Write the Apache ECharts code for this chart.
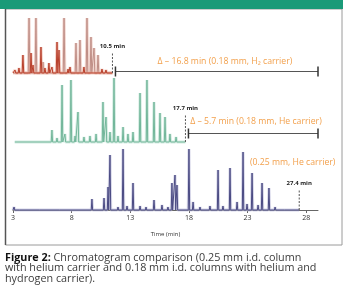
<!DOCTYPE html>
<html><head><meta charset="utf-8">
<script src="https://cdn.jsdelivr.net/npm/echarts@6/dist/echarts.min.js"></script>
<style>html,body{margin:0;padding:0;background:#fff}#c{width:350px;height:293px}</style>
</head><body><div id="c"></div>
<script>
// ---------------- data ----------------
const xTicks = [3, 8, 13, 18, 23, 28];
const axisTitle = 'Time (min)';

// Top: 0.18 mm column, H2 carrier
const topTimesDark   = [3.15, 3.45, 3.75, 4.36, 4.51, 5.11, 5.41, 5.71, 5.94, 6.32, 6.47, 7.15, 7.30, 8.35, 9.71, 10.01];
const topHeightsDark = [3, 5, 18, 20, 8, 26, 5, 10, 6, 31, 23, 4, 6, 6, 4, 3];
const topTimesLight   = [4.21, 4.73, 5.26, 6.85, 7.75, 8.05, 8.58, 8.88, 9.11, 9.41];
const topHeightsLight = [55, 55, 11, 55, 30, 33, 55, 36, 25, 18];

// Middle: 0.18 mm column, He carrier
const midTimes   = [6.32, 6.75, 7.18, 7.43, 7.94, 8.29, 8.54, 9.05, 9.56, 10.08, 10.67, 10.93, 11.27, 11.61, 11.95, 12.38, 12.80, 13.23, 13.83, 14.42, 15.02, 15.53, 15.96, 16.38, 16.90];
const midHeights = [12, 4, 57, 8, 62, 6, 30, 5, 6, 8, 40, 25, 10, 64, 6, 15, 8, 10, 49, 62, 40, 29, 25, 8, 5];

// Bottom: 0.25 mm column, He carrier
const botTimes   = [3.09, 3.60, 5.30, 7.01, 9.73, 10.76, 11.10, 11.27, 11.95, 12.38, 12.72, 13.23, 13.83, 14.34, 15.02, 15.70, 16.21, 16.55, 16.81, 16.98, 18.00, 18.35, 18.94, 19.79, 20.48, 20.90, 21.50, 22.10, 22.61, 22.95, 23.38, 23.89, 24.23, 24.82, 25.34, 26.19];
const botHeights = [3, 2, 2, 2, 11, 12, 23, 55, 3, 61, 4, 27, 4, 3, 10, 5, 3, 27, 35, 25, 61, 8, 3, 4, 40, 4, 42, 8, 58, 6, 37, 5, 27, 22, 3, 2];

// run end times (min) and their labels
const endTimes  = [10.5, 17.7, 27.4];
const endLabels = ['10.5 min', '17.7 min', '27.4 min'];
const deltaLabels = ['\u0394 \u2013 16.8 min (0.18 mm, H\u2082 carrier)', '\u0394 \u2013 5.7 min (0.18 mm, He carrier)', '(0.25 mm, He carrier)'];

// ---------------- chart ----------------
const W = 0.06;
function trace(times, heights, t0, t1) {
  const idx = times.map((t, i) => i).sort((a, b) => times[a] - times[b]);
  const pts = [[t0, 0]];
  idx.forEach(i => { const t = times[i]; pts.push([t - W, 0], [t, heights[i]], [t + W, 0]); });
  pts.push([t1, 0]);
  return pts;
}
function lineSeries(data, gi, color, width, opacity, z) {
  return { type: 'line', xAxisIndex: gi, yAxisIndex: gi, data: data, showSymbol: false, symbol: 'none',
    silent: true, animation: false, clip: false, z: z,
    lineStyle: { color: color, width: width, opacity: opacity } };
}
const ORANGE = '#f2a04c';
const FONT = 'Open Sans';

// marker (dashed end line + label)
function markerSeries(gi, t, h, label) {
  return { type: 'custom', xAxisIndex: gi, yAxisIndex: gi, data: [[t, h]], silent: true, animation: false, z: 5, clip: false,
    renderItem: function (p, api) {
      const a = api.coord([api.value(0), 0]), b = api.coord([api.value(0), api.value(1)]);
      return { type: 'group', children: [
        { type: 'line', shape: { x1: a[0], y1: a[1], x2: b[0], y2: b[1] }, style: { stroke: '#555', lineWidth: 1, lineDash: [2, 1.5] } },
        { type: 'text', style: { text: label, x: b[0], y: b[1] - 7, align: 'center', verticalAlign: 'middle',
          font: 'bold 6px "' + FONT + '"', fill: '#222' } }
      ] };
    } };
}
// delta bar from run end to axis end
function deltaSeries(gi, t0, t1, level) {
  return { type: 'custom', xAxisIndex: gi, yAxisIndex: gi, data: [[t0, t1, level]], silent: true, animation: false, z: 5, clip: false,
    renderItem: function (p, api) {
      const a = api.coord([api.value(0), api.value(2)]), b = api.coord([api.value(1), api.value(2)]);
      const x0 = a[0] + 3, y = Math.round(a[1]) + 0.5;
      const st = { stroke: '#555', lineWidth: 1 };
      return { type: 'group', children: [
        { type: 'line', shape: { x1: x0, y1: y, x2: b[0], y2: y }, style: st },
        { type: 'line', shape: { x1: x0, y1: y - 5, x2: x0, y2: y + 5 }, style: { stroke: '#333', lineWidth: 1.5 } },
        { type: 'line', shape: { x1: b[0], y1: y - 5, x2: b[0], y2: y + 5 }, style: { stroke: '#333', lineWidth: 1.5 } }
      ] };
    } };
}
function noteSeries(gi, t, v, text) {
  return { type: 'custom', xAxisIndex: gi, yAxisIndex: gi, data: [[t, v]], silent: true, animation: false, z: 6, clip: false,
    renderItem: function (p, api) {
      const a = api.coord([api.value(0), api.value(1)]);
      return { type: 'text', style: { text: text, x: a[0], y: a[1], align: 'left', verticalAlign: 'middle',
        font: '8.7px "' + FONT + '"', fill: ORANGE } };
    } };
}

const grids = [
  { left: 13, right: 32, top: 13, height: 60 },
  { left: 13, right: 32, top: 77, height: 65 },
  { left: 13, right: 32, top: 145, height: 65 }
];
const yMax = [60, 65, 65];
const xMax = [26, 29, 29];

const option = {
  animation: false,
  textStyle: { fontFamily: FONT },
  grid: grids,
  xAxis: [
    { gridIndex: 0, type: 'value', min: 3, max: xMax[0], show: false },
    { gridIndex: 1, type: 'value', min: 3, max: xMax[1], show: false },
    { gridIndex: 2, type: 'value', min: 3, max: xMax[2], interval: 5,
      axisLine: { show: true, lineStyle: { color: '#666', width: 1 } },
      axisTick: { show: true, length: 3, lineStyle: { color: '#666' } },
      splitLine: { show: false },
      axisLabel: { fontSize: 7, color: '#333', margin: 4, showMaxLabel: false,
        formatter: v => xTicks.indexOf(v) >= 0 ? String(v) : '' },
      name: axisTitle, nameLocation: 'middle', nameGap: 21,
      nameTextStyle: { fontSize: 6, color: '#333' } }
  ],
  yAxis: [0, 1, 2].map(i => ({ gridIndex: i, type: 'value', min: 0, max: yMax[i], show: false, splitLine: { show: false } })),
  series: [
    // top trace
    lineSeries(trace(topTimesLight, topHeightsLight, 3, 10.5), 0, '#e8b4a8', 3, 0.55, 2),
    lineSeries(trace(topTimesLight, topHeightsLight, 3, 10.5), 0, '#bf8e86', 1, 1, 3),
    lineSeries(trace(topTimesDark, topHeightsDark, 3, 10.5), 0, '#eba08c', 3, 0.5, 3),
    lineSeries(trace(topTimesDark, topHeightsDark, 3, 10.5), 0, '#b8402c', 1, 1, 4),
    // middle trace
    lineSeries(trace(midTimes, midHeights, 3.15, 17.7), 1, '#b8dfcf', 3, 0.6, 2),
    lineSeries(trace(midTimes, midHeights, 3.15, 17.7), 1, '#72b69a', 1, 1, 3),
    // bottom trace
    lineSeries(trace(botTimes, botHeights, 3, 27.4), 2, '#bdbdda', 3, 0.6, 2),
    lineSeries(trace(botTimes, botHeights, 3, 27.4), 2, '#4a4a82', 1, 1, 3),
    // markers
    markerSeries(0, endTimes[0], 20, endLabels[0]),
    markerSeries(1, endTimes[1], 27, endLabels[1]),
    markerSeries(2, endTimes[2], 20, endLabels[2]),
    // delta bars
    deltaSeries(0, endTimes[0], xMax[0], 2),
    deltaSeries(1, endTimes[1], xMax[1], 9),
    // notes
    noteSeries(0, 13.9, 11, deltaLabels[0]),
    noteSeries(1, 18.1, 20, deltaLabels[1]),
    noteSeries(2, 23.2, 47, deltaLabels[2])
  ],
  graphic: [
    { type: 'rect', shape: { x: 0, y: 0, width: 343, height: 9 }, style: { fill: '#1a9a78' }, z: 10 },
    { type: 'rect', shape: { x: 5.5, y: 9, width: 336.5, height: 236 }, style: { fill: 'none', stroke: '#9a9a9a', lineWidth: 1 }, z: 9 },
    { type: 'line', shape: { x1: 5.5, y1: 9, x2: 5.5, y2: 245 }, style: { stroke: '#555', lineWidth: 1.5 }, z: 10 },
    { type: 'text', left: 5, top: 252, z: 10,
      style: { text: '{b|Figure 2:} Chromatogram comparison (0.25 mm i.d. column\nwith helium carrier and 0.18 mm i.d. columns with helium and\nhydrogen carrier).',
        fontSize: 10.8, fontFamily: FONT, fill: '#3c3c3c', lineHeight: 10.6,
        rich: { b: { fontSize: 10.8, fontFamily: FONT, fontWeight: 'bold', fill: '#111', lineHeight: 10.6 } } } }
  ]
};
const chart = echarts.init(document.getElementById('c'), null, { renderer: 'canvas' });
chart.setOption(option);
</script>
</body></html>
